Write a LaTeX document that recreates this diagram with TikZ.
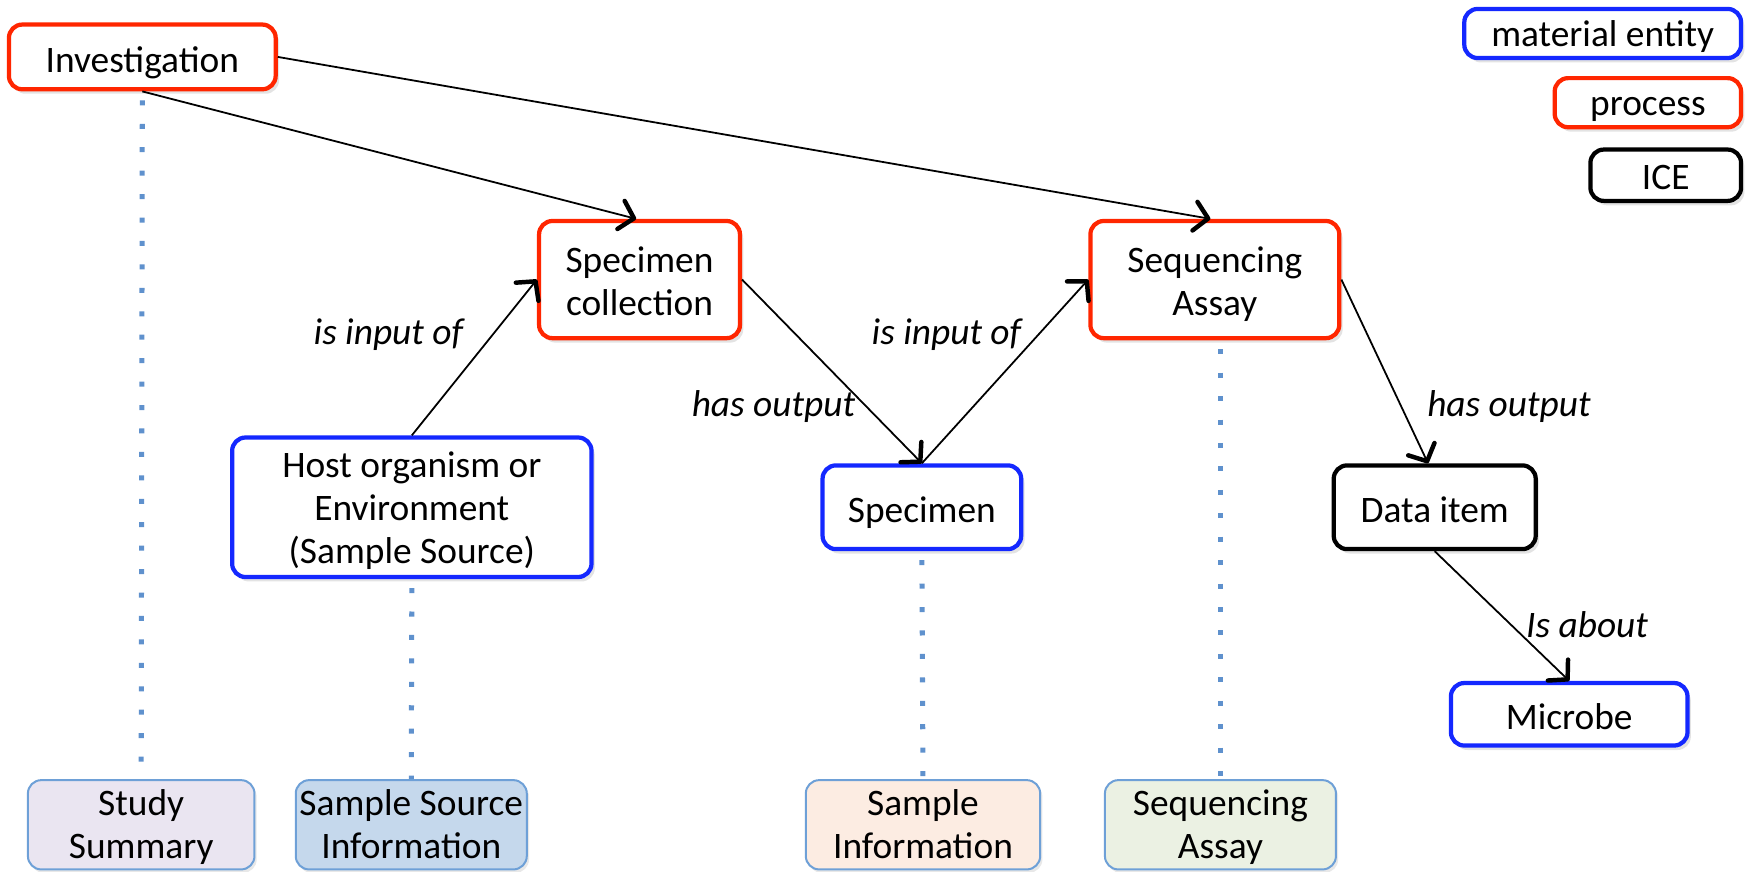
\documentclass[tikz,border=0pt]{standalone}
\usepackage{fontspec}
\setmainfont{Carlito}
\usetikzlibrary{arrows.meta,shadows}
\definecolor{procred}{RGB}{255,38,0}
\definecolor{matblue}{RGB}{20,40,255}
\definecolor{dotblue}{RGB}{95,145,205}
\definecolor{botborder}{RGB}{110,160,215}
\definecolor{fillA}{RGB}{234,229,241}
\definecolor{fillB}{RGB}{197,216,236}
\definecolor{fillC}{RGB}{252,236,226}
\definecolor{fillD}{RGB}{235,241,227}
% #1 = raise of the first baseline, #2 = lines
\newcommand{\boxtxt}[2]{\smash{\raisebox{#1}{\begin{tabular}[t]{@{}c@{}}#2\end{tabular}}}}
\tikzset{
  box/.style={draw, rounded corners=12pt, line width=3.8pt, fill=white, inner sep=0pt,
    font=\fontsize{33.5}{38.5}\selectfont,
    drop shadow={opacity=0.22, shadow xshift=3pt, shadow yshift=-4pt}},
  procbox/.style={box, draw=procred},
  matbox/.style={box, draw=matblue},
  icebox/.style={box, draw=black},
  botbox/.style={draw=botborder, rounded corners=12pt, line width=1.8pt, inner sep=0pt,
    font=\fontsize{33.5}{38.5}\selectfont, minimum height=80pt,
    drop shadow={opacity=0.18, shadow xshift=2pt, shadow yshift=-3pt}},
  rel/.style={line width=1.6pt, -{Straight Barb[length=12pt,width=26pt,line width=4pt,round]}},
  rellabel/.style={font=\fontsize{33.5}{38.5}\selectfont\itshape, inner sep=0pt},
  dotline/.style={draw=dotblue, line width=4.5pt, dash pattern=on 4.5pt off 16.5pt},
}
\begin{document}
\begin{tikzpicture}[x=1pt,y=-1pt]
\useasboundingbox (0,0) rectangle (1568,781);
% legend
\node[matbox, minimum width=248pt, minimum height=44pt] (lme) at (1436,30) {\boxtxt{-12pt}{material entity}};
\node[procbox, minimum width=167pt, minimum height=44pt] (lpr) at (1476.5,92) {\boxtxt{-11.5pt}{process}};
\node[icebox, minimum width=135pt, minimum height=46pt] (lice) at (1492.5,157) {\boxtxt{-12.5pt}{ICE}};
% bottom boxes
\node[botbox, fill=fillA, minimum width=203pt] (ss) at (126.5,739) {\boxtxt{8pt}{Study\\Summary}};
\node[botbox, fill=fillB, minimum width=207pt] (ssi) at (368.5,739) {\boxtxt{8pt}{Sample Source\\Information}};
\node[botbox, fill=fillC, minimum width=210pt] (si) at (827,739) {\boxtxt{8pt}{Sample\\Information}};
\node[botbox, fill=fillD, minimum width=207pt] (sab) at (1093.5,739) {\boxtxt{8pt}{Sequencing\\Assay}};
% main nodes
\node[procbox, minimum width=239pt, minimum height=58pt] (inv) at (127.5,51) {\boxtxt{-14pt}{Investigation}};
\node[procbox, minimum width=180pt, minimum height=105pt] (sc) at (573,250.5) {\boxtxt{6pt}{Specimen\\collection}};
\node[procbox, minimum width=223pt, minimum height=105pt] (sa) at (1088.5,250.5) {\boxtxt{6pt}{Sequencing\\Assay}};
\node[matbox, minimum width=322pt, minimum height=125pt] (host) at (369,454.5) {\boxtxt{27pt}{Host organism or\\Environment\\(Sample Source)}};
\node[matbox, minimum width=178pt, minimum height=75pt] (spec) at (826,454.5) {\boxtxt{-14pt}{Specimen}};
\node[icebox, minimum width=181pt, minimum height=75pt] (di) at (1285.5,454.5) {\boxtxt{-14pt}{Data item}};
\node[matbox, minimum width=212pt, minimum height=56pt] (mic) at (1406,640) {\boxtxt{-14pt}{Microbe}};
% dotted links
\draw[dotline] ([yshift=-8pt]inv.south) -- (ss.north);
\draw[dotline] ([yshift=-8pt]host.south) -- (ssi.north);
\draw[dotline] ([yshift=-8pt]spec.south) -- (si.north);
\draw[dotline] ([xshift=5pt,yshift=-8pt]sa.south) -- (sab.north);
% relations
\draw[rel] (inv.south) -- ([xshift=-3pt]sc.north);
\draw[rel] (inv.east) -- ([xshift=-4pt]sa.north);
\draw[rel] (host.north) -- (sc.west);
\draw[rel] (sc.east) -- (spec.north);
\draw[rel] (spec.north) -- (sa.west);
\draw[rel] (sa.east) -- ([xshift=-6pt]di.north);
\draw[rel] (di.south) -- (mic.north);
% labels
\node[rellabel] (l1) at (348,300) {is input of};
\node[rellabel] (l2) at (693,364) {has output};
\node[rellabel] (l3) at (848,300) {is input of};
\node[rellabel] (l4) at (1352,364) {has output};
\node[rellabel] (l5) at (1422,560) {Is about};
\end{tikzpicture}
\end{document}
